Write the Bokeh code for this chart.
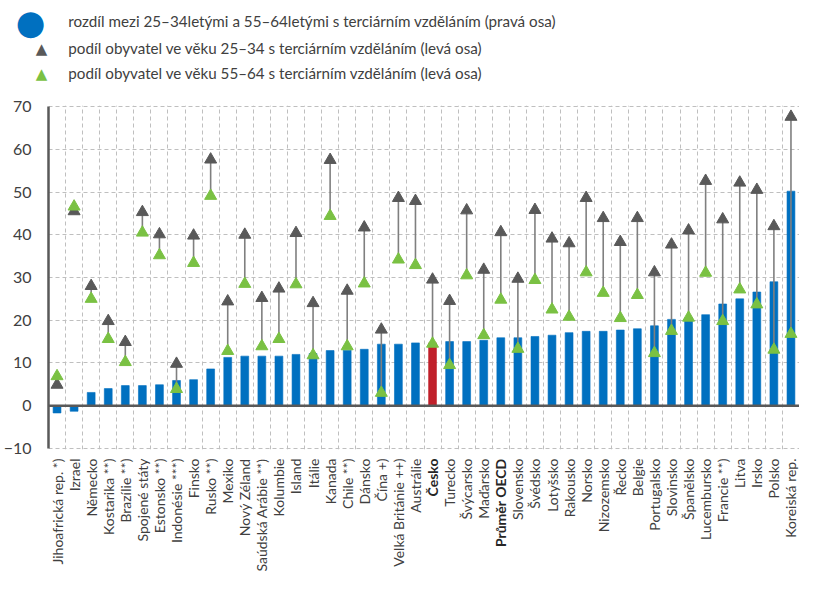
import math
from bokeh.plotting import figure
from bokeh.models import ColumnDataSource, Range1d, FixedTicker, Grid, Span
from bokeh.embed import file_html
from bokeh.resources import INLINE
from bokeh.core.properties import value

countries = ["Jihoafrická rep. *)", "Izrael", "Německo", "Kostarika **)", "Brazílie **)",
             "Spojené státy", "Estonsko **)", "Indonésie ***)", "Finsko", "Rusko **)",
             "Mexiko", "Nový Zéland", "Saúdská Arábie **)", "Kolumbie", "Island", "Itálie",
             "Kanada", "Chile **)", "Dánsko", "Čína +)", "Velká Británie ++)", "Austrálie",
             "Česko", "Turecko", "Švýcarsko", "Maďarsko", "Průměr OECD", "Slovensko",
             "Švédsko", "Lotyšsko", "Rakousko", "Norsko", "Nizozemsko", "Řecko", "Belgie",
             "Portugalsko", "Slovinsko", "Španělsko", "Lucembursko", "Francie **)", "Litva",
             "Irsko", "Polsko", "Koreiská rep."]

# rozdíl (pravá osa)
diff = [-1.7, -1.3, 3.1, 4.0, 4.7, 4.7, 4.9, 5.9, 6.1, 8.6,
        11.3, 11.6, 11.6, 11.6, 12.0, 12.2, 12.9, 13.0, 13.2, 14.4,
        14.4, 14.7, 14.7, 15.0, 15.0, 15.3, 15.9, 15.9, 16.2, 16.5,
        17.1, 17.4, 17.4, 17.7, 18.0, 18.7, 20.2, 20.5, 21.3, 23.8,
        25.0, 26.6, 29.0, 50.2]

# podíl 25-34
young = [4.9, 45.5, 28.0, 19.8, 14.9, 45.3, 40.1, 9.8, 39.8, 57.6,
         24.4, 40.0, 25.2, 27.4, 40.4, 24.0, 57.5, 26.9, 41.7, 17.8,
         48.6, 47.9, 29.5, 24.5, 45.7, 31.8, 40.6, 29.7, 45.8, 39.1,
         38.0, 48.6, 43.9, 38.3, 43.9, 31.2, 37.7, 41.0, 52.6, 43.6,
         52.2, 50.5, 42.0, 67.6]

# podíl 55-64
old = [6.9, 46.6, 25.0, 15.6, 10.2, 40.5, 35.2, 3.9, 33.4, 49.1,
       12.8, 28.5, 13.9, 15.6, 28.4, 11.8, 44.4, 13.9, 28.6, 3.0,
       34.2, 32.9, 14.5, 9.5, 30.5, 16.5, 24.8, 13.3, 29.4, 22.5,
       20.8, 31.2, 26.4, 20.5, 25.9, 12.3, 17.5, 20.6, 31.1, 19.8,
       27.2, 23.7, 13.1, 16.8]

y_ticks = [-10, 0, 10, 20, 30, 40, 50, 60, 70]

legend_labels = ["rozdíl mezi 25–34letými a 55–64letými s terciárním vzděláním (pravá osa)",
                 "podíl obyvatel ve věku 25–34 s terciárním vzděláním (levá osa)",
                 "podíl obyvatel ve věku 55–64 s terciárním vzděláním (levá osa)"]
legend_symbols = ["●", "▲", "▲"]

BLUE = "#0070C0"
RED = "#C0202A"
GRAY = "#595959"
GREEN = "#7AC143"
TEXT = "#404040"
FONT = "Lato"

n = len(countries)
xs = [i + 0.5 for i in range(n)]
colors = [RED if c == "Česko" else BLUE for c in countries]
styles = ["bold" if c in ("Česko", "Průměr OECD") else "normal" for c in countries]
lcolors = ["#262626" if s == "bold" else TEXT for s in styles]

src = ColumnDataSource(dict(x=xs, name=countries, diff=diff, young=young, old=old,
                            color=colors, style=styles, lcolor=lcolors))

# layout (pixels)
W, H = 799, 585
BORDER_L, BORDER_T, FRAME_H = 40, 105, 344
BORDER_B = H - BORDER_T - FRAME_H
Y0, Y1 = -10.25, 70.25
FRAME_W = W - BORDER_L
px_y = FRAME_H / (Y1 - Y0)      # pixels per y unit
px_x = FRAME_W / n              # pixels per category

p = figure(width=W, height=H, output_backend="svg", toolbar_location=None,
           x_range=Range1d(0, n), y_range=Range1d(Y0, Y1),
           x_axis_location=None, min_border_left=BORDER_L, min_border_right=0,
           min_border_top=BORDER_T, min_border_bottom=BORDER_B)
p.outline_line_color = None
p.xgrid.visible = False

p.yaxis.ticker = FixedTicker(ticks=y_ticks)
p.yaxis.axis_line_color = GRAY
p.yaxis.axis_line_width = 2.5
p.yaxis.major_tick_line_color = None
p.yaxis.minor_tick_line_color = None
p.yaxis.major_label_text_font = FONT
p.yaxis.major_label_text_font_size = "16px"
p.yaxis.major_label_text_color = TEXT
p.yaxis.major_label_standoff = 11
p.yaxis.bounds = (-10, 70)

p.ygrid.grid_line_color = "#bfbfbf"
p.ygrid.grid_line_dash = "4 3"
p.ygrid.grid_line_width = 1

vgrid = Grid(dimension=0, ticker=FixedTicker(ticks=list(range(n + 1))),
             grid_line_color="#bfbfbf", grid_line_dash="4 3", grid_line_width=1)
p.add_layout(vgrid)

p.vbar(x="x", top="diff", bottom=0, width=0.46, source=src, fill_color="color",
       line_color="color", line_alpha=0.6, line_width=1)

p.add_layout(Span(location=0, dimension="width", line_color=GRAY, line_width=2.5))

p.segment(x0="x", y0="old", x1="x", y1="young", source=src, line_color="#7f7f7f", line_width=1.6)
p.scatter(x="x", y="young", source=src, marker="triangle", size=12,
          fill_color=GRAY, line_color=GRAY)
p.scatter(x="x", y="old", source=src, marker="triangle", size=12,
          fill_color=GREEN, line_color=GREEN)

# category labels below the frame (overlay level -> not clipped to the frame)
label_y = Y0 - 9 / px_y
p.text(x="x", y=label_y, text="name", source=src, angle=math.pi / 2,
       text_align="right", text_baseline="middle",
       text_font=value(FONT), text_font_size="14px",
       text_color="lcolor", text_font_style="style", level="overlay")

# legend above the frame
def sx(px):   # figure-x -> data x
    return (px - BORDER_L) / px_x

def sy(py):   # figure-y from top -> data y
    return Y1 + (BORDER_T - py) / px_y

rows_py = [20, 47, 72]
leg_y = [sy(v) for v in rows_py]
p.text(x=[sx(22)], y=[sy(rows_py[0] + 1)], text=legend_symbols[:1],
       text_font=value("DejaVu Sans"), text_font_size="34px", text_color=BLUE,
       text_align="center", text_baseline="middle", level="overlay")
p.text(x=[sx(33)] * 2, y=[sy(v + 1) for v in rows_py[1:]], text=legend_symbols[1:],
       text_font=value("DejaVu Sans"), text_font_size="15px",
       text_color=[GRAY, GREEN], text_align="center", text_baseline="middle",
       level="overlay")
p.text(x=[sx(60)] * 3, y=leg_y, text=legend_labels, text_font=value(FONT),
       text_font_size="15.2px", text_color=TEXT, text_baseline="middle",
       text_align="left", level="overlay")

open("out.html", "w").write(file_html(p, INLINE))
